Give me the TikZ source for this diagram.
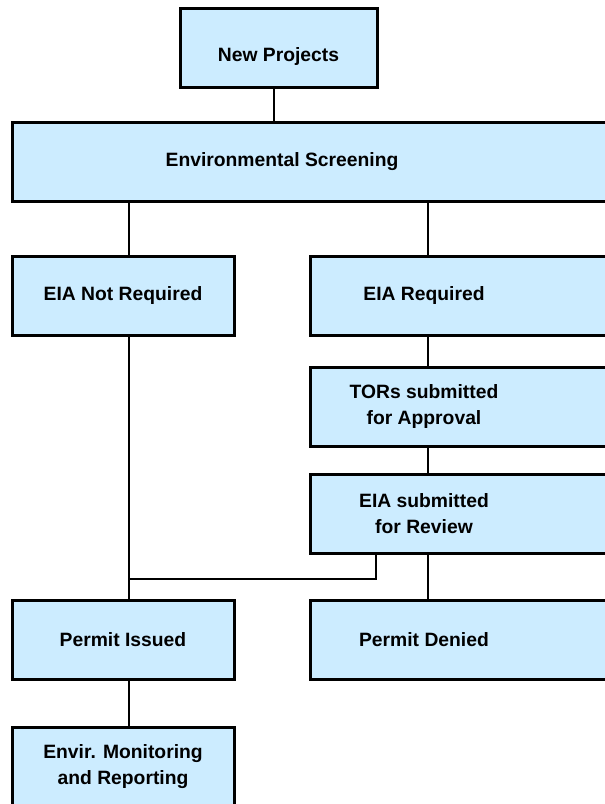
\documentclass[tikz,border=0pt]{standalone}
\usepackage{fontspec}
\setmainfont{Liberation Sans}
\definecolor{boxblue}{RGB}{204,236,255}
\newcommand{\offtext}[3]{\parbox{#1}{\centering #3}\kern#2\relax}

\begin{document}
\begin{tikzpicture}[x=1pt, y=-1pt,
    box/.style={draw, line width=3pt, fill=boxblue, minimum width=222pt, minimum height=79pt, inner sep=0pt, font=\bfseries\fontsize{19.3}{26}\selectfont},
    link/.style={line width=2pt}]
  \useasboundingbox (0,0) rectangle (605,804);
  \clip (0,0) rectangle (605,804);
  % column lines
  \coordinate (lc) at (129,0);
  \coordinate (rc) at (428,0);
  \coordinate (tap) at (376,579);
  \coordinate (jn) at (129,579);

  \node[box, minimum width=197pt, text height=26pt, text depth=0pt] (np) at (278.5,48) {New Projects};
  \node[box] (es) at (326,162) {\offtext{540pt}{88pt}{Environmental Screening}};
  \node[box] (nreq) at (123,296) {EIA Not Required};
  \node[box] (req) at (475,296) {\offtext{228pt}{102pt}{EIA Required}};
  \node[box] (tor) at (475,406.5) {\offtext{228pt}{102pt}{TORs submitted\\for Approval}};
  \node[box] (sub) at (475,513.5) {\offtext{228pt}{102pt}{EIA submitted\\for Review}};
  \node[box] (pi) at (123,639.5) {Permit Issued};
  \node[box] (pd) at (475,639.5) {\offtext{228pt}{102pt}{Permit Denied}};
  \node[box, align=center] (em) at (123,766.5) {Envir. Monitoring\\and Reporting};

  \path[link]
  ([xshift=-5]np.south) edge ([xshift=-5]np.south |- es.north)
  (es.south -| lc) edge (nreq.north -| lc)
  (es.south -| rc) edge (req.north -| rc)
  (nreq.south -| lc) edge (pi.north -| lc)
  (req.south -| rc) edge (tor.north -| rc)
  (tor.south -| rc) edge (sub.north -| rc)
  (sub.south -| rc) edge (pd.north -| rc)
  (pi.south -| lc) edge (em.north -| lc)
  ;
  \draw[link] (sub.south -| tap) |- (jn);
\end{tikzpicture}
\end{document}
